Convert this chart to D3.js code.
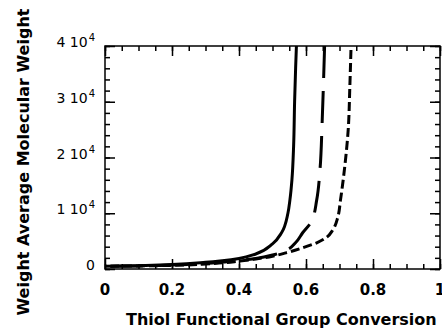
<!DOCTYPE html>
<html><head><meta charset="utf-8">
<script src="https://cdn.jsdelivr.net/npm/d3@7"></script>
<style>body{margin:0;background:#fff}svg{display:block}</style>
</head><body>
<svg id="c" width="442" height="328"></svg>
<script>
// Data
const xSolid = [0,0.1,0.2,0.3,0.35,0.4,0.45,0.5,0.527,0.546,0.552,0.558,0.563,0.566,0.569,0.572];
const ySolid = [500,600,800,1200,1500,1900,2700,4500,6500,10000,12400,16000,22000,30000,36000,41000];
const xLong = [0,0.1,0.2,0.3,0.4,0.45,0.5,0.542,0.57,0.59,0.617,0.632,0.642,0.648,0.652,0.656];
const yLong = [500,560,700,1000,1500,1900,2500,3400,4800,6500,8600,12400,18000,26000,33000,41000];
const xShort = [0,0.1,0.2,0.3,0.4,0.45,0.5,0.54,0.59,0.632,0.662,0.68,0.695,0.703,0.715,0.726,0.731,0.735];
const yShort = [500,550,650,900,1400,1800,2300,2900,3800,4700,5700,7000,9300,12400,18000,25000,33000,41000];
const xTicks = [0,0.2,0.4,0.6,0.8,1];
const xTickLabels = ["0","0.2","0.4","0.6","0.8","1"];
const yTicks = [0,10000,20000,30000,40000];
const yTickMant = ["0","1","2","3","4"];
const xTitle = "Thiol Functional Group Conversion";
const yTitle = "Weight Average Molecular Weight";

const L=105, R=440, T=46, B=269;
const svg = d3.select("#c");
const x = d3.scaleLinear().domain([0,1]).range([L,R]);
const y = d3.scaleLinear().domain([0,40000]).range([B,T]);

svg.append("defs").append("clipPath").attr("id","clip")
  .append("rect").attr("x",L-3).attr("y",T).attr("width",R-L+3).attr("height",B-T+3);

const series = [
  {xs:xSolid, ys:ySolid, dash:null, off:0},
  {xs:xLong, ys:yLong, dash:"32,13", off:-5.6},
  {xs:xShort, ys:yShort, dash:"9,4", off:3.4}
];
const line = d3.line().x(d=>x(d[0])).y(d=>y(d[1])).curve(d3.curveMonotoneY);
const g = svg.append("g").attr("clip-path","url(#clip)");
series.forEach(s=>{
  // draw from the top of the curve downwards so dashes start at the top
  const pts = s.xs.map((v,i)=>[v,s.ys[i]]).reverse();
  g.append("path").datum(pts).attr("d",line).attr("fill","none")
   .attr("stroke","#000").attr("stroke-width",3)
   .attr("stroke-dasharray",s.dash).attr("stroke-dashoffset",s.off);
});

// Axes with inward ticks
const xMinor = d3.range(0,1.0001,0.05);
const yMinor = d3.range(0,40001,2000);
const axB = d3.axisTop(x).tickValues(xMinor).tickSize(5).tickFormat("");
const axT = d3.axisBottom(x).tickValues(xMinor).tickSize(5).tickFormat("");
const axBM = d3.axisTop(x).tickValues(xTicks).tickSize(10).tickFormat("");
const axTM = d3.axisBottom(x).tickValues(xTicks).tickSize(10).tickFormat("");
const axL = d3.axisRight(y).tickValues(yMinor).tickSize(5).tickFormat("");
const axR = d3.axisLeft(y).tickValues(yMinor).tickSize(5).tickFormat("");
const axLM = d3.axisRight(y).tickValues(yTicks).tickSize(10).tickFormat("");
const axRM = d3.axisLeft(y).tickValues(yTicks).tickSize(10).tickFormat("");
[[axB,0,B],[axBM,0,B],[axT,0,T],[axTM,0,T],[axL,L,0],[axLM,L,0],[axR,R,0],[axRM,R,0]].forEach(([a,tx,ty])=>{
  const gg = svg.append("g").attr("transform",`translate(${tx},${ty})`).call(a);
  gg.select(".domain").remove();
  gg.selectAll("line").attr("stroke","#000").attr("stroke-width",1.5);
});
svg.append("rect").attr("x",L).attr("y",T).attr("width",R-L).attr("height",B-T)
  .attr("fill","none").attr("stroke","#000").attr("stroke-width",1.5);

// X tick labels
svg.append("g").selectAll("text").data(xTicks).join("text")
  .attr("x",d=>x(d)).attr("y",295).attr("text-anchor","middle")
  .attr("font-family","DejaVu Sans").attr("font-weight","bold").attr("font-size",15)
  .text((d,i)=>xTickLabels[i]);

// Y tick labels
const yl = svg.append("g").selectAll("text").data(yTicks).join("text")
  .attr("x",95).attr("y",d=>y(d)+1).attr("text-anchor","end")
  .attr("font-family","DejaVu Sans").attr("font-size",14);
yl.each(function(d,i){
  const t = d3.select(this);
  if(d===0){ t.text(yTickMant[i]); return; }
  t.append("tspan").text(yTickMant[i]+" 10");
  t.append("tspan").attr("dx",1).attr("dy",-6).attr("font-size",10).text("4");
});

// Titles
svg.append("text").attr("x",126).attr("y",325)
  .attr("font-family","DejaVu Sans").attr("font-weight","bold").attr("font-size",16)
  .text(xTitle);
svg.append("text").attr("transform","translate(29,162) rotate(-90)").attr("text-anchor","middle")
  .attr("font-family","DejaVu Sans").attr("font-weight","bold").attr("font-size",16)
  .text(yTitle);
</script>
</body></html>
